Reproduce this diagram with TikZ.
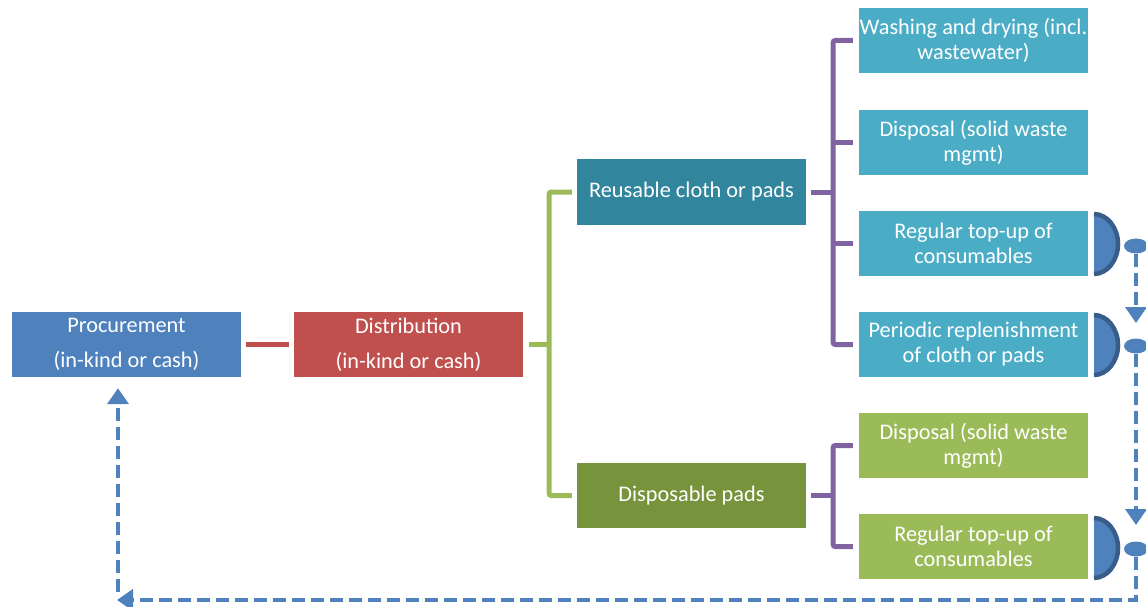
\documentclass[tikz,border=0pt]{standalone}
\usepackage{fontspec}
\setmainfont{Carlito}
\usetikzlibrary{arrows.meta,shapes.geometric}
\definecolor{cBlue}{HTML}{4F81BD}
\definecolor{cRed}{HTML}{C0504D}
\definecolor{cTeal}{HTML}{31859C}
\definecolor{cDGreen}{HTML}{77933C}
\definecolor{cLTeal}{HTML}{4BACC6}
\definecolor{cGreen}{HTML}{9BBB59}
\definecolor{cPurple}{HTML}{8064A2}
\definecolor{cDBlue}{HTML}{385D8A}
\begin{document}
\begin{tikzpicture}[x=1pt,y=-1pt,
  box/.style={rectangle, minimum width=229pt, minimum height=65pt, inner sep=0pt,
    text=white, font=\fontsize{22.3}{25}\selectfont, align=center},
  redline/.style={draw=cRed, line width=5.5pt},
  gline/.style={draw=cGreen, line width=5pt, rounded corners=2pt},
  pline/.style={draw=cPurple, line width=5pt, rounded corners=2pt},
  flow/.style={draw=cBlue, line width=4.5pt, dash pattern=on 13pt off 6pt,
    -{Triangle[width=21pt,length=16pt]}},
  dot/.style={ellipse, fill=cBlue, minimum width=24pt, minimum height=15pt, inner sep=0pt},
  halfd/.pic={
    \fill[cBlue] (0,-30) .. controls (13,-30) and (24,-16.5) .. (24,0)
      .. controls (24,16.5) and (13,30) .. (0,30) -- cycle;
    \draw[cDBlue, line width=4.5pt] (0,-30) .. controls (13,-30) and (24,-16.5) .. (24,0)
      .. controls (24,16.5) and (13,30) .. (0,30);
  }]
\useasboundingbox (0,0) rectangle (1146,607);

\node[box, fill=cBlue] (proc) at (126.5,344.5) {Procurement\\[10pt](in-kind or cash)};
\node[box, fill=cRed] (dist) at (408.5,344.5) {Distribution\\[10pt](in-kind or cash)};
\node[box, fill=cTeal] (reuse) at (691.5,192) {Reusable cloth or pads};
\node[box, fill=cDGreen] (disp) at (691.5,495.5) {Disposable pads};

\node[box, fill=cLTeal] (r1) at (973.5,40.5) {Washing and drying (incl.\\wastewater)};
\node[box, fill=cLTeal] (r2) at (973.5,142.5) {Disposal (solid waste\\mgmt)};
\node[box, fill=cLTeal] (r3) at (973.5,243.5) {Regular top-up of\\consumables};
\node[box, fill=cLTeal] (r4) at (973.5,344.5) {Periodic replenishment\\of cloth or pads};
\node[box, fill=cGreen] (g1) at (973.5,445.5) {Disposal (solid waste\\mgmt)};
\node[box, fill=cGreen] (g2) at (973.5,546.5) {Regular top-up of\\consumables};

% connectors
\draw[redline] ([xshift=5pt]proc.east) -- ([xshift=-5pt]dist.west);

\draw[gline] ([xshift=6pt]dist.east) -- ++(20,0) coordinate (gsp);
\draw[gline] ([xshift=-5pt]reuse.west) -| (gsp) |- ([xshift=-5pt]disp.west);

\draw[pline] ([xshift=5pt]reuse.east) -- ++(22,0) coordinate (psp);
\draw[pline] ([xshift=-6pt]r1.west) -| (psp) |- ([xshift=-6pt]r4.west);
\draw[pline] (psp |- r2.west) -- ([xshift=-6pt]r2.west);
\draw[pline] (psp |- r3.west) -- ([xshift=-6pt]r3.west);

\draw[pline] ([xshift=5pt]disp.east) -- ++(22,0) coordinate (psq);
\draw[pline] ([xshift=-6pt]g1.west) -| (psq) |- ([xshift=-6pt]g2.west);

% half-disc shapes
\pic at (1094,244) {halfd};
\pic at (1094,345) {halfd};
\pic at (1094,548) {halfd};

% feedback flow
\node[dot] (t1) at (1136,246) {};
\node[dot] (t2) at (1136,346) {};
\node[dot] (t3) at (1136,549) {};
\coordinate (h1) at (1136,323);
\coordinate (h2) at (1136,525);
\coordinate (e1) at (117,600);
\coordinate (b1) at (118,592);
\draw[flow] (t1) -- (h1);
\draw[flow] (t2) -- (h2);
\draw[flow] (t3) |- (e1);
\draw[flow] (b1) -- ([yshift=-11pt]b1 |- proc.south);
\end{tikzpicture}
\end{document}
